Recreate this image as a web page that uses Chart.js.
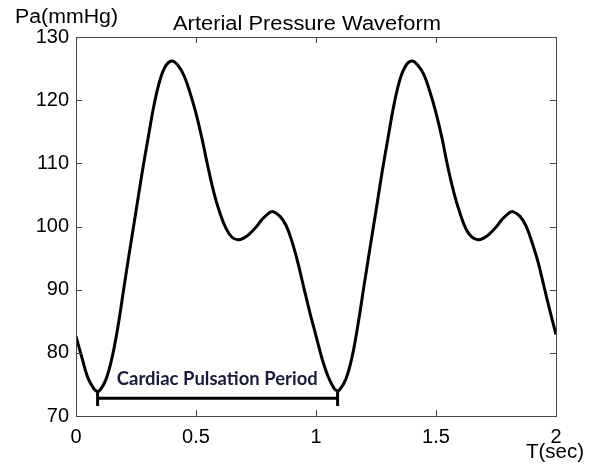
<!DOCTYPE html>
<html>
<head>
<meta charset="utf-8">
<script src="https://cdn.jsdelivr.net/npm/chart.js@4/dist/chart.umd.min.js"></script>
<style>
html,body{margin:0;padding:0;background:#fff;}
canvas{display:block;}
</style>
</head>
<body>
<canvas id="c" width="595" height="465"></canvas>
<script>
// ---- data ----
const timeSec = [
  0,0.025,0.05,0.075,0.088,0.1,0.125,0.15,0.175,0.2,0.225,0.25,0.275,0.3,0.325,0.35,0.375,0.4,0.425,0.45,0.475,0.5,
  0.525,0.55,0.575,0.6,0.625,0.65,0.675,0.7,0.725,0.75,0.775,0.8,0.82,0.85,0.875,0.9,0.925,0.95,0.975,1.0,
  1.025,1.05,1.075,1.088,1.1,1.125,1.15,1.175,1.2,1.225,1.25,1.275,1.3,1.325,1.35,1.375,1.4,1.425,1.45,1.475,1.5,
  1.525,1.55,1.575,1.6,1.625,1.65,1.675,1.7,1.725,1.75,1.775,1.8,1.82,1.85,1.875,1.9,1.925,1.95,1.975,2.0
];
const pressure = [
  82.6,79.2,76.0,74.3,73.9,74.1,75.8,79.2,84.2,90.4,96.5,102.4,108.4,113.9,119.2,123.2,125.5,126.2,125.5,123.9,121.2,117.9,
  113.9,109.4,105.3,102.1,99.7,98.3,97.9,98.2,98.9,99.9,101.1,102.0,102.35,101.6,100.2,97.6,94.2,90.2,86.3,82.7,
  79.1,76.3,74.4,74.0,74.2,75.9,79.3,84.5,90.6,96.6,102.5,108.5,114.0,119.3,123.3,125.5,126.2,125.5,124.0,121.3,118.0,
  114.0,109.3,105.3,102.1,99.6,98.3,97.9,98.2,98.9,99.9,101.1,102.0,102.35,101.6,100.1,97.5,94.4,90.5,86.6,82.9
];
const periodBracketX = [0.09,0.09,0.09,1.09,1.09,1.09];
const periodBracketY = [74.1,71.6,72.8,72.8,74.1,71.6];
const xTicks = [0,0.5,1,1.5,2];
const yTicks = [70,80,90,100,110,120,130];
const titleText = 'Arterial Pressure Waveform';
const yAxisLabel = 'Pa(mmHg)';
const xAxisLabel = 'T(sec)';
const annotationText = 'Cardiac Pulsation Period';
const annotationPos = {x:0.17, y:74.9};

const FONT = '"Liberation Sans", Arial, sans-serif';

function fitText(ctx, text, x, y, targetW){
  const w = ctx.measureText(text).width;
  ctx.save();
  ctx.translate(x, y);
  ctx.scale(targetW / w, 1);
  ctx.fillText(text, 0, 0);
  ctx.restore();
}

const decor = {
  id:'decor',
  afterDraw(chart){
    const ctx = chart.ctx, a = chart.chartArea;
    const xs = chart.scales.x, ys = chart.scales.y;
    ctx.save();
    // box
    ctx.strokeStyle = '#444';
    ctx.lineWidth = 1;
    ctx.strokeRect(Math.round(a.left)+0.5, Math.round(a.top)+0.5, Math.round(a.right-a.left), Math.round(a.bottom-a.top));
    // inward ticks
    ctx.beginPath();
    xTicks.forEach(v=>{
      const px = Math.round(xs.getPixelForValue(v))+0.5;
      ctx.moveTo(px,a.bottom); ctx.lineTo(px,a.bottom-6);
      ctx.moveTo(px,a.top); ctx.lineTo(px,a.top+6);
    });
    yTicks.forEach(v=>{
      const py = Math.round(ys.getPixelForValue(v))+0.5;
      ctx.moveTo(a.left,py); ctx.lineTo(a.left+6,py);
      ctx.moveTo(a.right,py); ctx.lineTo(a.right-6,py);
    });
    ctx.stroke();
    // texts
    ctx.fillStyle = '#000';
    ctx.textBaseline = 'alphabetic';
    ctx.textAlign = 'left';
    ctx.font = '20px ' + FONT;
    fitText(ctx, titleText, 173, 30, 268);
    fitText(ctx, yAxisLabel, 15, 23, 103);
    fitText(ctx, xAxisLabel, 526, 458, 58);
    // annotation
    ctx.font = 'bold 18px Lato, "Open Sans", sans-serif';
    ctx.fillStyle = '#1a1a3c';
    fitText(ctx, annotationText, xs.getPixelForValue(annotationPos.x), ys.getPixelForValue(annotationPos.y), 201);
    ctx.restore();
  }
};

new Chart(document.getElementById('c'), {
  type:'line',
  data:{
    datasets:[
      {
        data: timeSec.map((t,i)=>({x:t,y:pressure[i]})),
        borderColor:'#000', borderWidth:3, pointRadius:0,
        tension:0.4, fill:false
      },
      {
        data: periodBracketX.map((t,i)=>({x:t,y:periodBracketY[i]})),
        borderColor:'#000', borderWidth:3, pointRadius:0, tension:0, fill:false,
        borderJoinStyle:'miter'
      }
    ]
  },
  options:{
    responsive:false, animation:false,
    plugins:{legend:{display:false}, tooltip:{enabled:false}, title:{display:false}},
    layout:{padding:{top:37,right:39,left:0,bottom:0}},
    scales:{
      x:{
        type:'linear', min:0, max:2,
        afterBuildTicks(s){ s.ticks = xTicks.map(v=>({value:v})); },
        afterFit(s){ s.height = 49; },
        grid:{display:false, drawTicks:false},
        border:{display:false},
        ticks:{color:'#000', font:{size:20, family:FONT}, padding:9, maxRotation:0,
               callback:v=>String(v)}
      },
      y:{
        type:'linear', min:70, max:130,
        afterBuildTicks(s){ s.ticks = yTicks.map(v=>({value:v})); },
        afterFit(s){ s.width = 76; },
        grid:{display:false, drawTicks:false},
        border:{display:false},
        ticks:{color:'#000', font:{size:20, family:FONT}, padding:7,
               callback:v=>String(v)}
      }
    }
  },
  plugins:[decor]
});
</script>
</body>
</html>
